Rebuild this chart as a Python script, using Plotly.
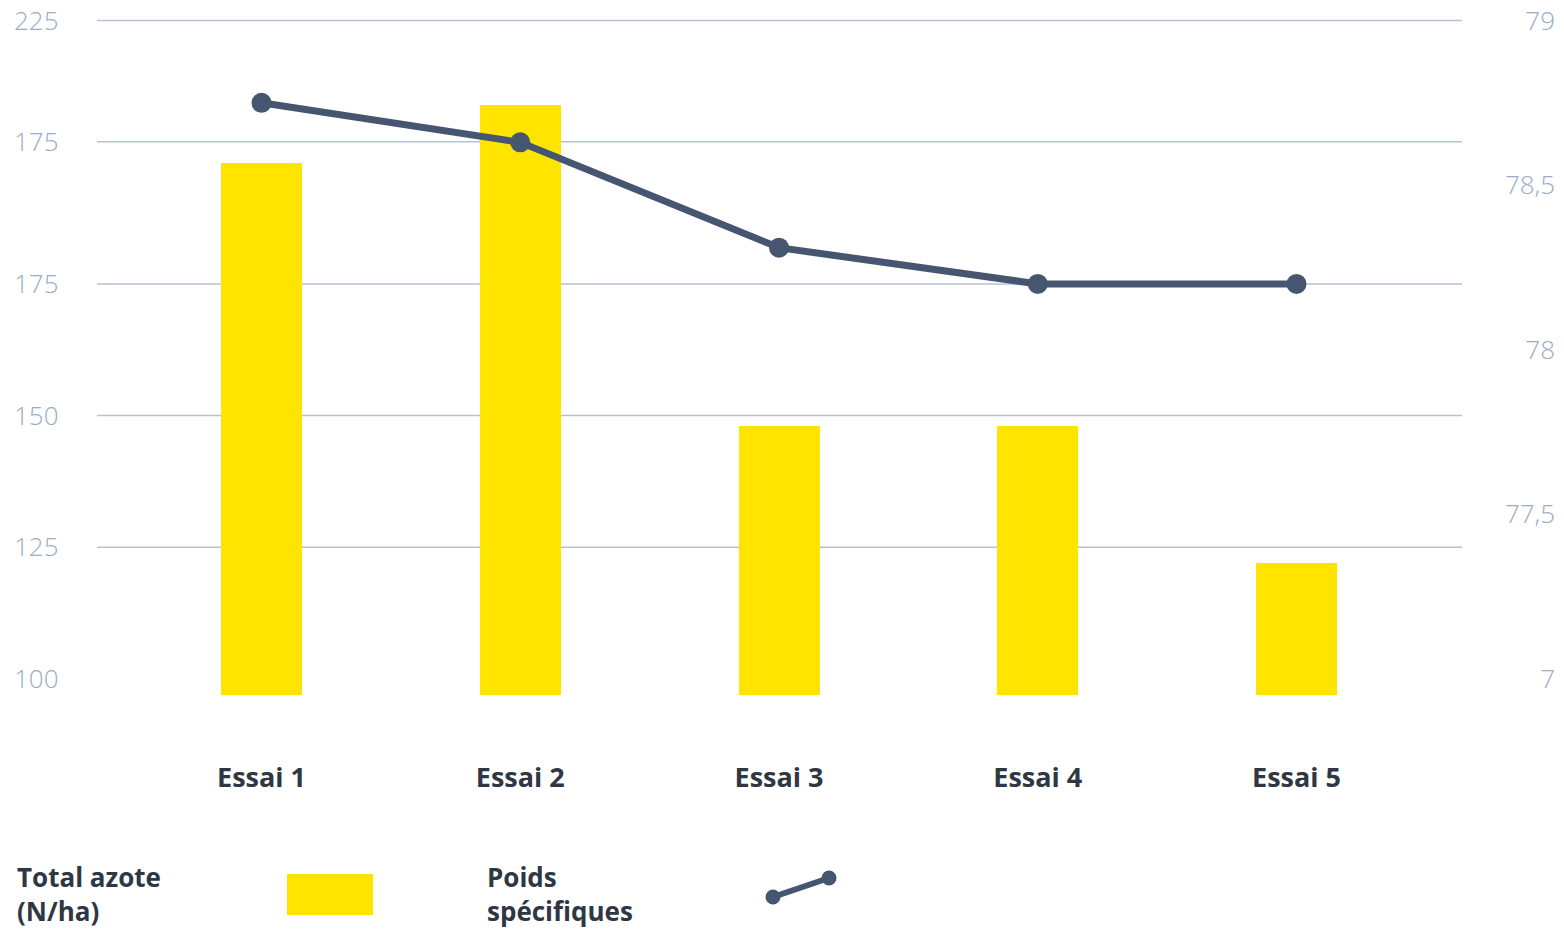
import plotly.graph_objects as go

# ---------------- data ----------------
categories = ["Essai 1", "Essai 2", "Essai 3", "Essai 4", "Essai 5"]
total_azote = [198, 209, 148, 148, 122]
bar_base = 97
poids_specifiques = [78.75, 78.63, 78.31, 78.2, 78.2]

left_tick_vals = [100, 125, 150, 175, 202, 225]
left_tick_text = ["100", "125", "150", "175", "175", "225"]
right_tick_vals = [77, 77.5, 78, 78.5, 79]
right_tick_text = ["7", "77,5", "78", "78,5", "79"]

legend_labels = ["Total azote<br>(N/ha)", "Poids<br>spécifiques"]

# ---------------- styling / layout helpers ----------------
W, H = 1564, 929
ML, MR, MT, MB = 10, 6, 0, 189
PW, PH = W - ML - MR, H - MT - MB

YELLOW = "#FFE400"
SLATE = "#475670"
TICK_COL = "#9aacc6"
GRID_COL = "#b4c2d4"
TEXT_DARK = "#2f3742"
FONT = "Open Sans"


def px_x(px):
    return (px - ML) / PW


def px_y(py):
    return (H - MB - py) / PH


# pixel mapping of the value axes (label positions in the reference)
k_left = (679 - 20.5) / 125.0
k_right = (679 - 20.5) / 2.0
plot_bottom_px = H - MB
left_range = [100 - (plot_bottom_px - 679) / k_left, 225 + 20.5 / k_left]
right_range = [77 - (plot_bottom_px - 679) / k_right, 79 + 20.5 / k_right]

# category axis: centres at 261.5 ... 1296.5 px, plot from 97 to 1462 px
step = (1296.5 - 261.5) / 4
x_range = [-(261.5 - 97) / step, 4 + (1462 - 1296.5) / step]

fig = go.Figure()

fig.add_trace(go.Bar(
    x=categories, y=[v - bar_base for v in total_azote], base=bar_base,
    name="Total azote (N/ha)",
    customdata=total_azote, hovertemplate="%{x}: %{customdata}<extra></extra>",
    marker=dict(color=YELLOW, line=dict(width=0)),
    width=81 / step, yaxis="y", showlegend=False,
))

fig.add_trace(go.Scatter(
    x=categories, y=poids_specifiques, name="Poids spécifiques",
    mode="lines+markers", yaxis="y2",
    line=dict(color=SLATE, width=7),
    marker=dict(color=SLATE, size=20),
    showlegend=False,
))

shapes = []
# gridlines (from left tick values, none at the baseline)
for v in left_tick_vals[1:]:
    shapes.append(dict(type="line", xref="paper", yref="y",
                       x0=px_x(97), x1=px_x(1462), y0=v, y1=v,
                       line=dict(color=GRID_COL, width=1.5), layer="below"))

# custom legend symbols
shapes.append(dict(type="rect", xref="paper", yref="paper",
                   x0=px_x(287), x1=px_x(373), y0=px_y(915), y1=px_y(874),
                   fillcolor=YELLOW, line=dict(width=0)))
shapes.append(dict(type="line", xref="paper", yref="paper",
                   x0=px_x(773), y0=px_y(897), x1=px_x(829), y1=px_y(878),
                   line=dict(color=SLATE, width=6)))
for cx, cy in [(773, 897), (829, 878)]:
    r = 7.5
    shapes.append(dict(type="circle", xref="paper", yref="paper",
                       x0=px_x(cx - r), x1=px_x(cx + r),
                       y0=px_y(cy + r), y1=px_y(cy - r),
                       fillcolor=SLATE, line=dict(width=0)))

annotations = []
for label, lx in zip(legend_labels, [15, 485]):
    annotations.append(dict(
        text=label, xref="paper", yref="paper",
        x=px_x(lx), y=px_y(894), xanchor="left", yanchor="middle",
        align="left", showarrow=False,
        font=dict(family=FONT, size=26, color=TEXT_DARK, weight=700)))

fig.update_layout(
    width=W, height=H,
    margin=dict(l=ML, r=MR, t=MT, b=MB),
    paper_bgcolor="white", plot_bgcolor="white",
    showlegend=False,
    bargap=0,
    shapes=shapes,
    annotations=annotations,
    xaxis=dict(
        domain=[px_x(97), px_x(1462)],
        range=x_range, type="category",
        showgrid=False, showline=False, zeroline=False, ticks="",
        ticklabelstandoff=19,
        tickfont=dict(family=FONT, size=27, color=TEXT_DARK, weight=700),
    ),
    yaxis=dict(
        range=left_range, anchor="free", position=0, side="left",
        tickvals=left_tick_vals, ticktext=left_tick_text,
        ticklabelposition="inside",
        showgrid=False, showline=False, zeroline=False, ticks="",
        tickfont=dict(family=FONT, size=26, color=TICK_COL, weight=300),
    ),
    yaxis2=dict(
        range=right_range, overlaying="y", anchor="free", position=1,
        side="right",
        tickvals=right_tick_vals, ticktext=right_tick_text,
        ticklabelposition="inside",
        showgrid=False, showline=False, zeroline=False, ticks="",
        tickfont=dict(family=FONT, size=26, color=TICK_COL, weight=300),
    ),
)

fig.write_html("out.html",
               config={"displayModeBar": False},
               post_script="document.body.style.margin='0px';"
                           "document.body.style.overflow='hidden';")
